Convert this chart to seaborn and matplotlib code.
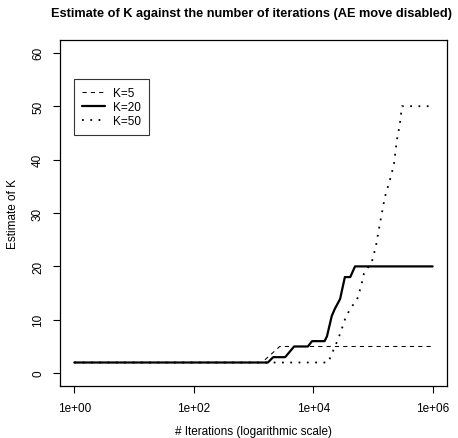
import numpy as np
import pandas as pd
import matplotlib
matplotlib.use("Agg")
import matplotlib.pyplot as plt
import seaborn as sns

sns.set_style("ticks")
plt.rcParams['font.family'] = ['Liberation Sans', 'DejaVu Sans']
plt.rcParams['text.color'] = 'black'
plt.rcParams['axes.labelcolor'] = 'black'
plt.rcParams['xtick.color'] = 'black'
plt.rcParams['ytick.color'] = 'black'

# Data (log10 of iteration count and estimated K)
k5_logx = [0.0, 3.14, 3.44, 6.0]
k5_k = [2, 2, 5, 5]

k20_logx = [0.0, 3.24, 3.33, 3.53, 3.68, 3.91, 3.98, 4.19, 4.23, 4.31, 4.36,
            4.45, 4.53, 4.62, 4.70, 6.0]
k20_k = [2, 2, 3, 3, 5, 5, 6, 6, 6.9, 10.7, 12, 13.9, 18, 18, 20, 20]

k50_logx = [0.0, 4.25, 4.31, 4.41, 4.46, 4.55, 4.62, 4.75, 4.78, 4.82, 4.85,
            4.98, 5.05, 5.10, 5.15, 5.20, 5.28, 5.35, 5.40, 5.45, 5.485, 6.0]
k50_k = [2, 2, 3.6, 6.2, 7.7, 10.7, 12, 14.2, 15.5, 17.2, 18.7,
         20.8, 23.8, 27, 30, 33, 36, 39, 43.6, 46.6, 50, 50]

series_labels = ["K=5", "K=20", "K=50"]
xtick_vals = [1, 1e2, 1e4, 1e6]
xtick_labels = ["1e+00", "1e+02", "1e+04", "1e+06"]
ytick_vals = [0, 10, 20, 30, 40, 50, 60]

fig = plt.figure(figsize=(4.58, 4.39), dpi=100)
ax = fig.add_axes([60/458, 1-387/439, 387/458, 346/439])

df5 = pd.DataFrame({"x": 10**np.array(k5_logx), "k": k5_k})
df20 = pd.DataFrame({"x": 10**np.array(k20_logx), "k": k20_k})
df50 = pd.DataFrame({"x": 10**np.array(k50_logx), "k": k50_k})

sns.lineplot(data=df5, x="x", y="k", ax=ax, color="black", lw=0.75,
             label=series_labels[0], sort=False)
sns.lineplot(data=df20, x="x", y="k", ax=ax, color="black", lw=1.6,
             label=series_labels[1], sort=False)
sns.lineplot(data=df50, x="x", y="k", ax=ax, color="black", lw=1.3,
             label=series_labels[2], sort=False)
lines = ax.get_lines()
lines[0].set_dashes((4, 4))
lines[2].set_dashes((1, 3.6))

ax.set_xscale("log")
ax.set_xlim(10**-0.24, 10**6.24)
ax.set_ylim(-2.4, 62.4)
ax.set_xticks(xtick_vals)
ax.set_xticklabels(xtick_labels)
ax.xaxis.set_minor_locator(matplotlib.ticker.NullLocator())
ax.set_yticks(ytick_vals)
ax.set_yticklabels([str(v) for v in ytick_vals], rotation=90, va="center")
ax.tick_params(axis="both", length=5, width=0.8, pad=6.5, labelsize=8.5,
               color="black", labelcolor="black")
for s in ax.spines.values():
    s.set_visible(True)
    s.set_color("black")
    s.set_linewidth(0.9)

ax.set_xlabel("")
ax.set_ylabel("")
fig.text(253.5/458, 1-432/439, "# Iterations (logarithmic scale)", ha="center",
         va="center", fontsize=8.5, color="black")
fig.text(13/458, 1-214/439, "Estimate of K", ha="center", va="center",
         rotation=90, fontsize=8.5, color="black")
fig.text(252/458, 1-14/439,
         "Estimate of K against the number of iterations (AE move disabled)",
         ha="center", va="center", fontsize=9.2, fontweight="bold", color="black")

leg = ax.legend(loc="upper left", bbox_to_anchor=((74-60)/387, (387-80)/346),
                borderaxespad=0, fontsize=8.5, frameon=True, fancybox=False,
                handlelength=1.9, handletextpad=0.7, labelspacing=0.15,
                borderpad=0.7)
leg.get_frame().set_edgecolor("black")
leg.get_frame().set_linewidth(0.8)
for t in leg.get_texts():
    t.set_color("black")

fig.savefig("out.png", dpi=100)
